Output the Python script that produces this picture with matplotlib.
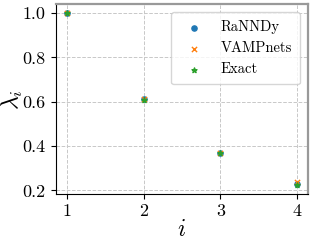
import matplotlib
matplotlib.use("Agg")
import matplotlib.pyplot as plt

plt.rcParams['font.family'] = 'serif'
plt.rcParams['font.serif'] = ['cmr10']
plt.rcParams['mathtext.fontset'] = 'cm'
plt.rcParams['axes.formatter.use_mathtext'] = True
plt.rcParams['axes.unicode_minus'] = False

idx = [1, 2, 3, 4]
rannndy = [1.0, 0.611, 0.367, 0.227]
vampnets = [1.0, 0.612, 0.368, 0.236]
exact = [1.0, 0.607, 0.368, 0.223]

fig, ax = plt.subplots(figsize=(3.14, 2.44), dpi=100)
ax.scatter(idx, rannndy, marker='o', s=14, color='#1f77b4', label='RaNNDy', zorder=3)
ax.scatter(idx, vampnets, marker='x', s=14, linewidths=1, color='#ff7f0e', label='VAMPnets', zorder=3)
ax.scatter(idx, exact, marker='*', s=14, color='#2ca02c', label='Exact', zorder=3)

ax.set_xticks(idx)
ax.set_yticks([0.2, 0.4, 0.6, 0.8, 1.0])
ax.set_yticklabels(['0.2', '0.4', '0.6', '0.8', '1.0'])
ax.set_xticklabels(['1', '2', '3', '4'])
ax.tick_params(labelsize=13)
ax.grid(True, linestyle='--', color='#c8c8c8', linewidth=0.7)
ax.set_axisbelow(True)
ax.set_xlabel(r'$i$', fontsize=17, labelpad=0)
ax.set_ylabel(r'$\lambda_i$', fontsize=17)
ax.yaxis.set_label_coords(-0.12, 0.5)
for s in ['top', 'right']:
    ax.spines[s].set_color('#999999')
    ax.spines[s].set_linewidth(1.6)
ax.legend(loc='upper right', fontsize=10.5, handletextpad=0.85, labelspacing=0.5,
          borderpad=0.55, borderaxespad=0.55, framealpha=0.8)

fig.subplots_adjust(left=0.177, right=0.982, top=0.982, bottom=0.205)
fig.savefig('out.png', dpi=100)
